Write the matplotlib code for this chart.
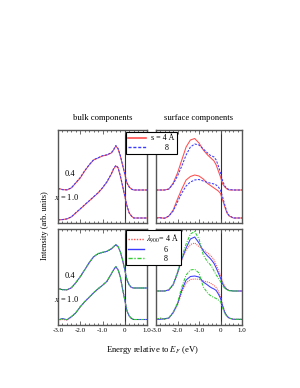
import matplotlib
matplotlib.use("Agg")
import matplotlib.pyplot as plt
from matplotlib.ticker import MultipleLocator
from matplotlib.lines import Line2D

plt.rcParams['font.family'] = ['Liberation Serif', 'DejaVu Serif']
plt.rcParams['mathtext.fontset'] = 'stix'

energy = [-3.0, -2.8, -2.6, -2.4, -2.2, -2.0, -1.8, -1.6, -1.4, -1.2, -1.0, -0.8, -0.6,
          -0.5, -0.4, -0.3, -0.2, -0.1, 0.0, 0.1, 0.2, 0.3, 0.4, 0.6, 0.8, 1.0]

# ---- top row: s = 4 Å (red) vs 8 (blue) ----
bulk_s4_x04 = [34.7, 33.5, 33, 35, 40, 45, 52, 58, 63, 65, 67, 68, 70,
               73, 77, 74, 67, 58, 49, 40, 36, 34, 33, 33, 33, 33]
bulk_s8_x04 = [34.5, 33.3, 33.2, 35.2, 40.3, 45.5, 52.3, 58.2, 63.3, 65.2, 67.3, 68.2, 70.3,
               73.5, 77.5, 74.6, 67.5, 58.5, 49.3, 40.2, 36, 34, 33, 33, 33, 33]
bulk_s4_x10 = [3, 3.5, 4, 6, 10, 14, 18, 22, 26, 30, 35, 41, 49,
               54, 57, 55, 47, 37, 27, 17, 10, 7, 5, 5, 5, 5]
bulk_s8_x10 = [3.2, 3.3, 4.2, 6.2, 10.3, 14.2, 18.3, 22.2, 26.3, 30.2, 35.3, 41.3, 49.4,
               54.5, 57.6, 55.5, 47.5, 37.4, 27.3, 17.2, 10.1, 7, 5, 5, 5, 5]
surf_s4_x04 = [33, 33, 33, 34, 40, 50, 63, 76, 83, 84.5, 80, 73, 68,
               66, 64, 62, 58, 52, 46, 39, 36, 34, 33, 33, 33, 33]
surf_s8_x04 = [33, 33, 33, 34, 39, 47, 57, 68, 76, 79, 78, 74, 70,
               68, 67, 66, 63, 57, 50, 42, 37, 34.5, 33.5, 33, 33, 33]
surf_s4_x10 = [5, 5.5, 4.5, 7, 13, 24, 34, 43, 46.5, 48, 47, 44, 39.5,
               38, 36.5, 35, 33.5, 32, 29.5, 23, 16, 10, 7, 5, 5, 5]
surf_s8_x10 = [5, 5, 5, 7, 12, 21, 30, 37, 41, 43, 43.5, 42, 40.5,
               40, 39.5, 39, 38, 36, 33, 26, 18, 11, 7.5, 5, 5, 5]

# ---- bottom row: lambda_900 = 4 (red), 6 (blue), 8 (green) ----
bulk_l4_x04 = [36.7, 35.5, 35, 37, 42, 48, 55, 62, 68, 71, 72.5, 73.5, 76,
               78, 80, 78, 73, 65, 55, 45, 40, 37.5, 37, 37, 37, 37]
bulk_l6_x04 = [36.5, 35.3, 35.2, 37.2, 42.3, 48.3, 55.2, 62.3, 68.2, 71.3, 72.6, 73.7, 76.2,
               78.3, 80.3, 78.4, 73.3, 65.3, 55.2, 45.2, 40, 37.5, 37, 37, 37, 37]
bulk_l8_x04 = [36.4, 35.2, 35.3, 37.3, 42.5, 48.5, 55.4, 62.5, 68.4, 71.5, 72.8, 73.9, 76.4,
               78.5, 80.6, 78.6, 73.5, 65.5, 55.4, 45.3, 40.1, 37.6, 37, 37, 37, 37]
bulk_l4_x10 = [5, 5.5, 5, 8, 12, 18, 23, 27.5, 32, 36, 39.5, 43.5, 51,
               55, 58, 55, 48, 36, 25, 14, 9, 6.5, 5.5, 5.5, 5.5, 5.5]
bulk_l6_x10 = [5, 6.5, 5.2, 8.2, 12.2, 18.2, 23.3, 27.7, 32.2, 36.2, 39.7, 43.7, 51.3,
               55.3, 58.3, 55.3, 48.2, 36.2, 25.1, 14.1, 9, 6.5, 5.5, 5.5, 5.5, 5.5]
bulk_l8_x10 = [5.2, 6, 5.4, 8.4, 12.4, 18.4, 23.5, 27.9, 32.4, 36.4, 39.9, 43.9, 51.5,
               55.5, 58.6, 55.5, 48.4, 36.4, 25.2, 14.2, 9.1, 6.6, 5.5, 5.5, 5.5, 5.5]
surf_l4_x04 = [34, 34, 34, 35, 40, 51, 65, 75, 80.5, 82, 78.5, 75.5, 72,
               70, 68, 65, 60, 55, 50, 43, 38.5, 36, 34.5, 34, 34, 34]
surf_l6_x04 = [34, 34, 34, 35, 40.5, 52, 66, 77, 86, 88, 82, 74, 69,
               67, 64.5, 61.5, 57, 52, 47, 41, 37.5, 35.5, 34.5, 34, 34, 34]
surf_l8_x04 = [34, 34, 34, 35.5, 41, 53, 68, 81, 91, 93.5, 86, 70, 63,
               61, 58, 54, 50, 47, 43.5, 39.5, 36.5, 35, 34.3, 34, 34, 34]
surf_l4_x10 = [5.7, 6.5, 5.7, 7, 12, 20, 33, 42, 45.5, 46, 45.7, 44, 43,
               42.3, 41, 39.5, 37.5, 34, 28.3, 20, 13, 9, 7, 5.7, 5.7, 5.7]
surf_l6_x10 = [5.7, 5.7, 6.3, 7, 12.5, 21, 35, 45, 48.5, 49, 48, 43, 40,
               38.3, 37, 36, 34.5, 31, 26.7, 19, 12.5, 9, 7, 5.7, 5.7, 5.7]
surf_l8_x10 = [5.7, 7, 5.7, 7.5, 13, 22, 38, 50, 55, 55.7, 52, 38, 32,
               30, 28.5, 27.5, 26.5, 25, 23.3, 17, 11.5, 8.5, 6.8, 5.7, 5.7, 5.7]

xticks = [-3.0, -2.0, -1.0, 0.0, 1.0]
xticklabels = ["-3.0", "-2.0", "-1.0", "0", "1.0"]

RED = "#ff4d4d"
BLUE = "#3a3aff"
GREEN = "#33cc33"
SPINE = "#555555"
LW = 0.75

W, H = 300, 388
fig = plt.figure(figsize=(W / 100, H / 100), dpi=100)

def frac(x0, y0, x1, y1):
    return [x0 / W, 1 - y1 / H, (x1 - x0) / W, (y1 - y0) / H]

ax_tl = fig.add_axes(frac(58, 130, 147, 223))
ax_tr = fig.add_axes(frac(156, 130, 242, 223))
ax_bl = fig.add_axes(frac(58, 229, 147, 325))
ax_br = fig.add_axes(frac(156, 229, 242, 325))

dash_blue = (0, (2.2, 1.3))
dot_red = (0, (1.0, 1.0))
dashdot_green = (0, (3.0, 1.2, 1.0, 1.2))

for y in (bulk_s4_x04, bulk_s4_x10):
    ax_tl.plot(energy, y, color=RED, lw=LW, ls='-')
for y in (bulk_s8_x04, bulk_s8_x10):
    ax_tl.plot(energy, y, color=BLUE, lw=LW, ls=dash_blue)
for y in (surf_s4_x04, surf_s4_x10):
    ax_tr.plot(energy, y, color=RED, lw=LW, ls='-')
for y in (surf_s8_x04, surf_s8_x10):
    ax_tr.plot(energy, y, color=BLUE, lw=LW, ls=dash_blue)

for y in (bulk_l4_x04, bulk_l4_x10):
    ax_bl.plot(energy, y, color=RED, lw=LW, ls=dot_red)
for y in (bulk_l6_x04, bulk_l6_x10):
    ax_bl.plot(energy, y, color=BLUE, lw=LW, ls='-')
for y in (bulk_l8_x04, bulk_l8_x10):
    ax_bl.plot(energy, y, color=GREEN, lw=LW, ls=dashdot_green)
for y in (surf_l4_x04, surf_l4_x10):
    ax_br.plot(energy, y, color=RED, lw=LW, ls=dot_red)
for y in (surf_l6_x04, surf_l6_x10):
    ax_br.plot(energy, y, color=BLUE, lw=LW, ls='-')
for y in (surf_l8_x04, surf_l8_x10):
    ax_br.plot(energy, y, color=GREEN, lw=LW, ls=dashdot_green)

for ax, top in ((ax_tl, 93), (ax_tr, 93), (ax_bl, 96), (ax_br, 96)):
    ax.set_xlim(-3.0, 1.0)
    ax.set_ylim(0, top)
    ax.axvline(0, color='#333333', lw=0.8, zorder=0)
    ax.set_yticks([])
    ax.set_xticks(xticks)
    ax.xaxis.set_minor_locator(MultipleLocator(0.2))
    ax.tick_params(axis='x', which='both', direction='in', top=True, bottom=True,
                   color=SPINE, width=0.6)
    ax.tick_params(axis='x', which='major', length=2.6, labelsize=5.0, pad=2)
    ax.tick_params(axis='x', which='minor', length=1.4)
    for s in ax.spines.values():
        s.set_color(SPINE)
        s.set_linewidth(1.0)

for ax in (ax_tl, ax_tr):
    ax.tick_params(axis='x', labelbottom=False)
for ax in (ax_bl, ax_br):
    ax.set_xticklabels(xticklabels)

for ax in (ax_tl, ax_bl):
    ax.text(-2.46, 49, "0.4", fontsize=6, ha='center', va='center')
    ax.text(-2.62, 26, r"$x$ = 1.0", fontsize=6, ha='center', va='center')

ax_tl.set_title("bulk components", fontsize=6.2, pad=7)
ax_tr.set_title("surface components", fontsize=6.2, pad=7)

fig.text(152 / W, 1 - 350 / H, r"Energy relative to $E_F$ (eV)", fontsize=6.2,
         ha='center', va='center')
fig.text(45 / W, 1 - 226 / H, "Intensity (arb. units)", fontsize=6.0,
         ha='center', va='center', rotation=90)

h1 = [Line2D([], [], color=RED, lw=1.2, ls='-'),
      Line2D([], [], color=BLUE, lw=1.0, ls=dash_blue)]
leg1 = fig.legend(h1, ["s = 4 Å", "       8"], loc='upper left',
                  bbox_to_anchor=(126 / W, 1 - 132 / H), fontsize=5.8,
                  frameon=True, fancybox=False, edgecolor='black', framealpha=1,
                  handlelength=2.2, handletextpad=0.6, borderpad=0.3,
                  labelspacing=0.15, borderaxespad=0)
leg1.get_frame().set_linewidth(0.8)

h2 = [Line2D([], [], color=RED, lw=1.0, ls=dot_red),
      Line2D([], [], color=BLUE, lw=1.0, ls='-'),
      Line2D([], [], color=GREEN, lw=1.0, ls=dashdot_green)]
leg2 = fig.legend(h2, [r"$\lambda_{900}$= 4 Å", "         6", "         8"],
                  loc='upper left', bbox_to_anchor=(126 / W, 1 - 230 / H), fontsize=5.8,
                  frameon=True, fancybox=False, edgecolor='black', framealpha=1,
                  handlelength=1.9, handletextpad=0.3, borderpad=0.3,
                  labelspacing=0.1, borderaxespad=0)
leg2.get_frame().set_linewidth(0.8)

fig.savefig("out.png", dpi=100, facecolor='white')
